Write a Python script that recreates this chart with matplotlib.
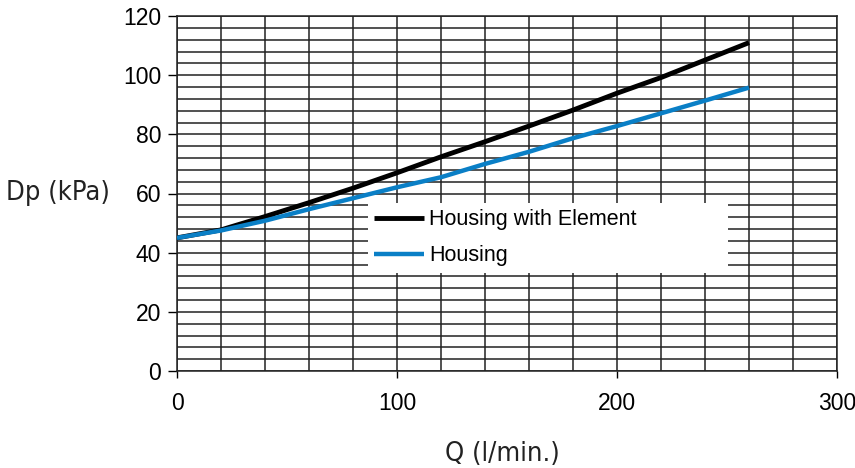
import numpy as np
import matplotlib
matplotlib.use("Agg")
import matplotlib.pyplot as plt
from matplotlib.ticker import MultipleLocator
from matplotlib import font_manager

# flow (l/min) and pressure drop (kPa)
flow = [0, 20, 40, 60, 80, 100, 120, 140, 160, 180, 200, 220, 240, 260]
dp_element = [45, 47.7, 52.2, 56.9, 61.8, 67.0, 72.4, 77.5, 82.8, 88.2, 93.9, 99.2, 105.1, 111]
dp_housing = [45, 47.5, 50.8, 54.7, 58.4, 62.1, 65.5, 70.0, 74.1, 78.7, 82.8, 87.1, 91.4, 95.8]

series_names = ["Housing with Element", "Housing"]
series_colors = ["#000000", "#0a7fc6"]

plt.rcParams['font.family'] = ['Liberation Sans', 'DejaVu Sans']

# a condensed face for the axis titles, if one is installed
cond = [f for f in font_manager.fontManager.ttflist
        if 'narrow' in f.name.lower() or 'condensed' in f.name.lower()
        or f.stretch in ('condensed', 'semi-condensed', 'extra-condensed')]
label_font = dict(family=['DejaVu Sans'], fontsize=18)
if cond:
    label_font = dict(family=[cond[0].name], stretch=cond[0].stretch, fontsize=19.5)

fig = plt.figure(figsize=(8.55, 4.68), dpi=100)
ax = fig.add_axes([177/855, 1-371/468, 660/855, 355/468])

ax.plot(flow, dp_element, color=series_colors[0], lw=3.5, label=series_names[0],
        solid_capstyle='butt', zorder=3)
ax.plot(flow, dp_housing, color=series_colors[1], lw=3.2, label=series_names[1],
        solid_capstyle='butt', zorder=3)

ax.set_xlim(0, 300)
ax.set_ylim(0, 120)
ax.xaxis.set_major_locator(MultipleLocator(100))
ax.xaxis.set_minor_locator(MultipleLocator(20))
ax.yaxis.set_major_locator(MultipleLocator(20))
ax.yaxis.set_minor_locator(MultipleLocator(4))
ax.grid(True, which='both', color='#222222', lw=1.1, zorder=1)
ax.set_axisbelow(True)

ax.tick_params(which='minor', length=0)
ax.tick_params(axis='y', which='major', length=6.5, width=1, pad=5, labelsize=16.5, direction='out')
ax.tick_params(axis='x', which='major', length=5, width=1, pad=10, labelsize=16.5, direction='out')
for s in ax.spines.values():
    s.set_color('#222222')
    s.set_linewidth(1.1)

leg = ax.legend(loc='upper left', bbox_to_anchor=(0.289, 0.28, 0.546, 0.194),
                mode='expand', frameon=True, fancybox=False, framealpha=1,
                facecolor='white', edgecolor='none', fontsize=15.5,
                handlelength=2.3, handletextpad=0.25, borderpad=0.3,
                labelspacing=0.7, borderaxespad=0)
leg.get_frame().set_linewidth(0)

fig.text(58/855, 1-200/468, "Dp (kPa)", ha='center', va='baseline',
         color='#222222', **label_font)
fig.text(502/855, 1-461/468, "Q (l/min.)", ha='center', va='baseline',
         color='#222222', **label_font)

fig.savefig("out.png", dpi=100, facecolor="w")
